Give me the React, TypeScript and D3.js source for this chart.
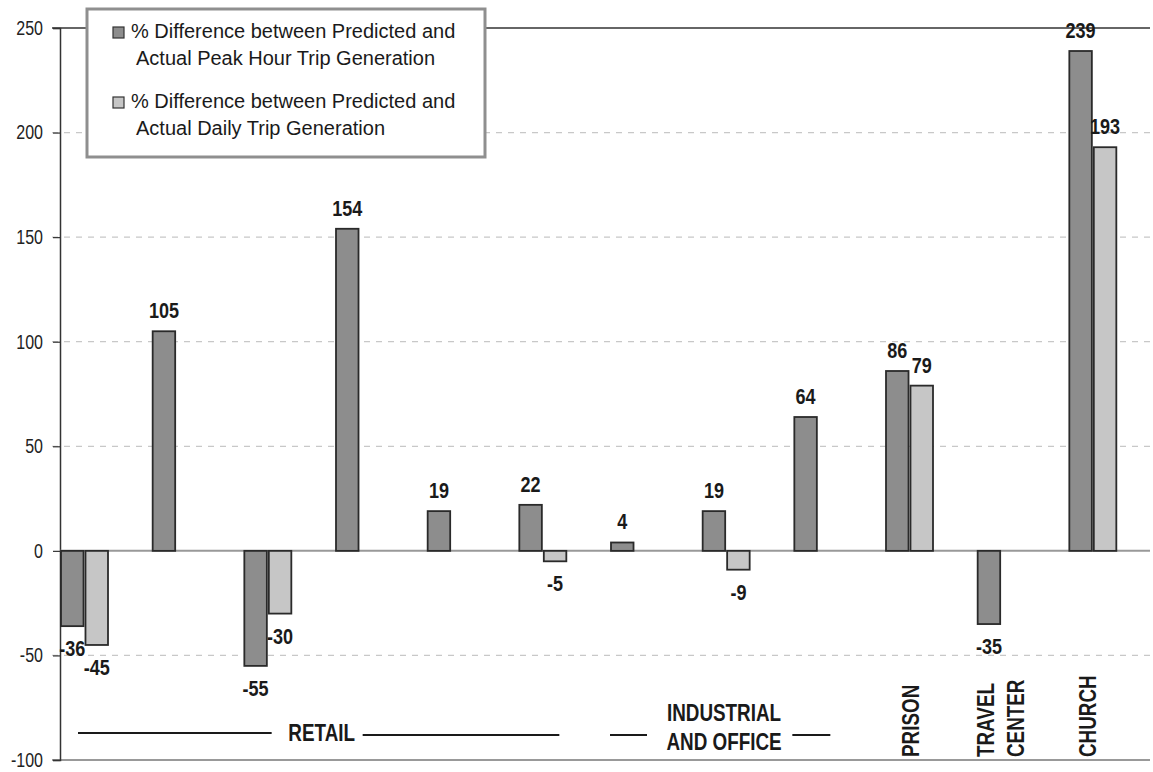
import { useEffect, useRef } from 'react'
import * as d3 from 'd3'

// values (null = no bar for that series)
const categories = ['r1', 'r2', 'r3', 'r4', 'r5', 'r6', 'io1', 'io2', 'io3', 'prison', 'travel', 'church']
const peakHour: (number | null)[] = [-36, 105, -55, 154, 19, 22, 4, 19, 64, 86, -35, 239]
const daily: (number | null)[] = [-45, null, -30, null, null, -5, null, -9, null, 79, null, 193]
const yTicks = [-100, -50, 0, 50, 100, 150, 200, 250]
const legendLabels = [
  ['% Difference between Predicted and', 'Actual Peak Hour Trip Generation'],
  ['% Difference between Predicted and', 'Actual Daily Trip Generation'],
]
const seriesKeys = ['peak', 'daily']
const groupLabels = [
  { lines: ['RETAIL'], from: 0, to: 5 },
  { lines: ['INDUSTRIAL', 'AND OFFICE'], from: 6, to: 8 },
]
const rotatedLabels = [
  { cat: 'prison', lines: ['PRISON'] },
  { cat: 'travel', lines: ['TRAVEL', 'CENTER'] },
  { cat: 'church', lines: ['CHURCH'] },
]

const FONT = '"Liberation Sans", Arial, Helvetica, sans-serif'
const DARK = '#8d8d8d'
const LIGHT = '#c6c6c6'
const INK = '#1a1a1a'
const SQUEEZE = 0.82 // no narrow font installed, so squeeze horizontally

type G = d3.Selection<SVGGElement, unknown, null, undefined>

// condensed text helper
function narrowText(g: G, x: number, y: number, t: string, size: number, bold: boolean, rotate = 0, anchor = 'middle') {
  return g.append('text')
    .attr('transform', `translate(${x},${y}) rotate(${rotate}) scale(${SQUEEZE},1)`)
    .attr('text-anchor', anchor)
    .attr('font-family', FONT)
    .attr('font-size', size)
    .attr('font-weight', bold ? 'bold' : 'normal')
    .attr('fill', INK)
    .text(t)
}

export default function App() {
  const svgRef = useRef<SVGSVGElement>(null)

  useEffect(() => {
    if (!svgRef.current) return
    const width = 1153
    const height = 772

    const x = d3.scaleBand<string>().domain(categories).range([60, 1160]).padding(0)
    const x1 = d3.scaleBand<string>().domain(seriesKeys).range([1, 48]).paddingInner(0.08)
    const y = d3.scaleLinear().domain([-100, 250]).range([760, 28])

    const svg = d3.select(svgRef.current)
    svg.selectAll('*').remove()
    svg.attr('width', width).attr('height', height)

    // gridlines
    svg.append('g')
      .selectAll('line')
      .data(yTicks.filter(t => t !== 0 && t !== 250 && t !== -100))
      .join('line')
      .attr('x1', 52).attr('x2', 1150)
      .attr('y1', d => y(d)).attr('y2', d => y(d))
      .attr('stroke', '#c8c8c8')
      .attr('stroke-dasharray', '6,6')
      .attr('stroke-width', 1.2)

    // top line at 250
    svg.append('line')
      .attr('x1', 52).attr('x2', 1150)
      .attr('y1', y(250)).attr('y2', y(250))
      .attr('stroke', '#333').attr('stroke-width', 1.5)

    // bottom line at -100
    svg.append('line')
      .attr('x1', 52).attr('x2', 1150)
      .attr('y1', y(-100)).attr('y2', y(-100))
      .attr('stroke', '#999').attr('stroke-width', 2)

    // y axis
    const yAxis = svg.append('g')
      .attr('transform', 'translate(60,0)')
      .call(d3.axisLeft(y).tickValues(yTicks).tickSize(7).tickPadding(10).tickFormat(d => String(d)))
    yAxis.select('.domain').attr('stroke', '#333').attr('stroke-width', 1.5)
    yAxis.selectAll('.tick line').attr('stroke', '#333').attr('stroke-width', 1.2)
    yAxis.selectAll('.tick text')
      .attr('x', -17 / 0.8)
      .attr('transform', 'scale(0.8,1)')
      .attr('font-family', FONT)
      .attr('font-size', 20)
      .attr('fill', '#222')

    // legend box
    const legend = svg.append('g')
    legend.append('rect')
      .attr('x', 87).attr('y', 9).attr('width', 398).attr('height', 148)
      .attr('fill', '#fff').attr('stroke', '#8f8f8f').attr('stroke-width', 3)
    legendLabels.forEach((lines, i) => {
      const top = 27 + i * 70
      legend.append('rect')
        .attr('x', 113).attr('y', top).attr('width', 11).attr('height', 11)
        .attr('fill', i === 0 ? DARK : LIGHT)
        .attr('stroke', '#333').attr('stroke-width', 1.2)
      lines.forEach((t, j) => {
        legend.append('text')
          .attr('x', j === 0 ? 131 : 136)
          .attr('y', top + 11 + j * 27)
          .attr('font-family', FONT)
          .attr('font-size', 20)
          .attr('fill', INK)
          .text(t)
      })
    })

    // zero line
    svg.append('line')
      .attr('x1', 60).attr('x2', 1150)
      .attr('y1', y(0)).attr('y2', y(0))
      .attr('stroke', '#999').attr('stroke-width', 2)

    // bars
    const rows = categories.map((c, i) => ({ c, peak: peakHour[i], daily: daily[i] }))
    const bars = rows.flatMap(r => seriesKeys
      .map(k => ({ c: r.c, k, v: (r as any)[k] as number | null }))
      .filter(b => b.v !== null)) as { c: string; k: string; v: number }[]

    const barG = svg.append('g')
    barG.selectAll('rect')
      .data(bars)
      .join('rect')
      .attr('x', d => (x(d.c) ?? 0) + (x1(d.k) ?? 0))
      .attr('width', x1.bandwidth())
      .attr('y', d => y(Math.max(0, d.v)))
      .attr('height', d => Math.abs(y(d.v) - y(0)))
      .attr('fill', d => d.k === 'peak' ? DARK : LIGHT)
      .attr('stroke', '#2a2a2a')
      .attr('stroke-width', 1.8)

    const valG = svg.append('g') as unknown as G
    bars.forEach(d => {
      const cx = (x(d.c) ?? 0) + (x1(d.k) ?? 0) + x1.bandwidth() / 2
      const ty = d.v >= 0 ? y(d.v) - 13 : y(d.v) + 30
      narrowText(valG, cx, ty, String(d.v), 22, true)
    })

    // group labels with rules
    const labelG = svg.append('g') as unknown as G
    const rule = (x1v: number, x2v: number, yv: number) =>
      labelG.append('line').attr('x1', x1v).attr('x2', x2v).attr('y1', yv).attr('y2', yv)
        .attr('stroke', INK).attr('stroke-width', 2)

    // RETAIL
    const rx0 = (x(categories[groupLabels[0].from]) ?? 0) + 18
    const rx1 = (x(categories[groupLabels[0].to]) ?? 0) + 41
    const rMid = (rx0 + rx1) / 2
    narrowText(labelG, rMid + 3, 741, groupLabels[0].lines[0], 23, true)
    rule(rx0, rMid - 47, 733)
    rule(rMid + 44, rx1, 735)

    // INDUSTRIAL AND OFFICE
    const ix0 = x(categories[groupLabels[1].from]) ?? 0
    const ix1 = (x(categories[groupLabels[1].to]) ?? 0) + 37
    const iMid = 724
    groupLabels[1].lines.forEach((t, j) => narrowText(labelG, iMid, 721 + j * 29, t, 23, true))
    rule(ix0, ix0 + 37, 735)
    rule(ix1 - 38, ix1, 735)

    // rotated labels (baseline sits on the right of the glyphs)
    const rotOffset: Record<string, number[]> = { prison: [34], travel: [17, 47], church: [28] }
    rotatedLabels.forEach(l => {
      const bx = x(l.cat) ?? 0
      l.lines.forEach((t, j) => {
        narrowText(labelG, bx + rotOffset[l.cat][j], 757, t, 23, true, -90, 'start')
      })
    })
  }, [])

  return (
    <div style={{ position: 'absolute', left: 0, top: 0, background: '#fff' }}>
      <svg ref={svgRef} style={{ display: 'block' }} />
    </div>
  )
}
